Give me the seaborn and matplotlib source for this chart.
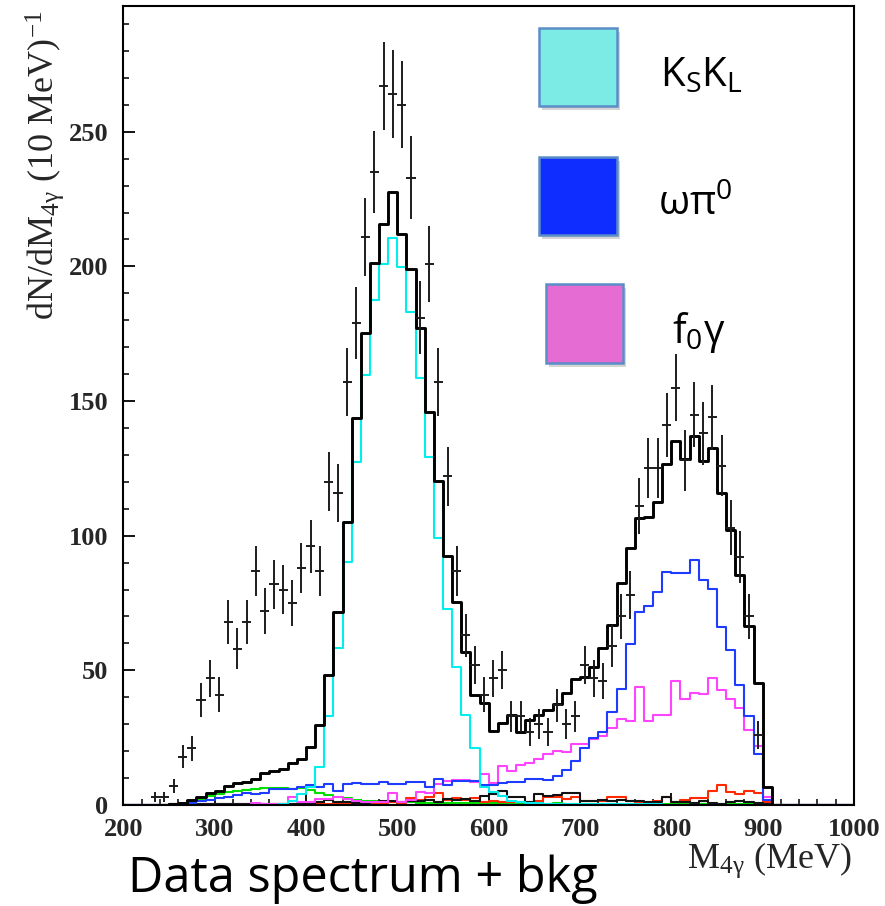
import numpy as np
import pandas as pd
import seaborn as sns
import matplotlib
matplotlib.use("Agg")
import matplotlib.pyplot as plt
from matplotlib.patches import Rectangle
from matplotlib.ticker import MultipleLocator

# ---------------- data (10 MeV bins) ----------------
bin_edges = list(range(200, 1001, 10))        # 200 ... 1000 MeV
lead_zeros = 5                                 # bins 200-250 empty
tail_zeros = 9                                 # bins 910-1000 empty
# values below are for bins with lower edges 250, 260, ..., 900

total_mc = [0.3, 0.6, 1.8, 3.0, 4.3, 5.3, 7.0, 8.2, 8.7, 9.7,
            12.0, 12.6, 13.2, 15.5, 17.0, 21.7, 29.7, 48.3, 71.6, 105.0,
            143.6, 175.2, 201.1, 215.6, 227.7, 211.9, 199.2, 177.2, 146.0, 120.4,
            92.6, 75.5, 56.9, 40.8, 37.7, 27.5, 30.3, 33.4, 27.2, 31.6,
            33.4, 35.3, 37.5, 41.7, 46.7, 47.6, 51.4, 58.4, 66.8, 82.5,
            95.5, 106.4, 106.8, 112.6, 126.6, 135.3, 128.3, 137.0, 127.8, 132.4,
            115.7, 102.1, 85.4, 66.5, 45.4, 6.6]

kskl = [0, 0, 0, 0, 0, 0, 0, 0, 0, 0,
        0, 0, 0.3, 1.5, 4.0, 6.5, 14.2, 33.0, 58.4, 90.1,
        127.5, 159.7, 187.5, 200.8, 210.4, 199.9, 183.2, 158.4, 129.3, 99.0,
        72.6, 51.4, 33.4, 21.0, 6.5, 5.0, 3.5, 1.5, 1.2, 0.8,
        0.6, 0.5, 0.4, 0.3, 0.3, 0.3, 0.3, 0.2, 0.2, 0.2,
        0.2, 0.2, 0.2, 0.2, 0.1, 0.1, 0.1, 0.1, 0.1, 0.1,
        0.1, 0.1, 0.1, 0.1, 0.1, 0.1]

omega_pi0 = [0, 0.3, 0.8, 1.3, 2.0, 2.6, 3.0, 3.8, 4.3, 4.0,
             4.5, 5.8, 6.0, 5.8, 6.5, 7.4, 6.8, 7.8, 5.1, 7.8,
             8.3, 7.8, 7.8, 8.7, 7.8, 7.8, 8.4, 8.7, 6.8, 9.7,
             7.5, 8.8, 8.8, 9.0, 7.4, 7.5, 8.0, 8.5, 8.5, 9.8,
             9.5, 9.2, 10.8, 13.0, 16.5, 21.2, 24.8, 27.2, 34.4, 43.0,
             59.8, 71.5, 74.0, 79.0, 86.5, 86.0, 86.0, 91.0, 83.5, 80.1,
             66.2, 57.5, 44.6, 33.0, 18.9, 2.0]

f0_gamma = [0, 0, 0, 0, 0, 0, 0, 0, 0, 0.7,
            0.3, 0.3, 0.3, 2.8, 1.0, 1.0, 2.2, 2.2, 2.8, 2.2,
            1.6, 1.2, 1.0, 1.0, 4.5, 1.2, 1.8, 4.8, 4.6, 7.8,
            9.0, 9.3, 9.3, 8.5, 11.5, 8.3, 14.5, 12.5, 14.7, 15.5,
            17.2, 19.0, 20.2, 19.5, 22.5, 22.5, 24.5, 25.5, 28.7, 31.8,
            31.3, 43.7, 31.3, 33.4, 33.4, 46.0, 39.2, 41.7, 41.1, 47.0,
            42.7, 39.2, 35.9, 27.8, 21.9, 3.0]

green_bkg = [0, 0.5, 1.2, 2.2, 3.2, 4.2, 4.8, 5.3, 5.6, 5.8,
             6.2, 6.3, 6.4, 6.0, 6.2, 5.5, 4.5, 3.6, 3.0, 2.5,
             2.0, 1.6, 1.4, 1.2, 1.1, 1.0, 1.0, 0.9, 0.9, 0.8,
             0.8, 0.8, 0.7, 0.7, 0.7, 0.7, 0.6, 0.6, 0.5, 0.6,
             0.5, 0.5, 0.6, 0.5, 0.4, 0.5, 0.4, 0.4, 0.5, 0.4,
             0.4, 0.3, 0.4, 0.3, 0.3, 0.3, 0.3, 0.3, 0.2, 0.3,
             0.2, 0.2, 0.2, 0.2, 0.2, 0.1]

red_bkg = [0.2, 0.2, 0.2, 0.2, 0.2, 0.2, 0.2, 0.2, 0.2, 0.2,
           0.2, 0.2, 0.2, 0.2, 0.2, 0.3, 0.4, 0.5, 0.5, 0.6,
           0.6, 0.5, 0.6, 0.7, 1.2, 0.6, 2.5, 1.9, 2.8, 4.3,
           1.9, 2.5, 1.9, 2.5, 1.0, 1.4, 1.0, 1.0, 1.0, 1.0,
           1.6, 2.8, 2.8, 2.2, 2.8, 1.4, 1.6, 1.6, 2.8, 3.1,
           1.6, 1.0, 1.0, 1.6, 2.8, 1.0, 1.9, 2.5, 2.5, 5.3,
           7.3, 4.7, 4.0, 5.2, 4.5, 1.1]

black_bkg = [0.2, 0.2, 0.2, 0.2, 0.2, 0.2, 0.2, 0.2, 0.2, 0.2,
             0.2, 0.2, 0.2, 0.2, 0.2, 0.5, 1.0, 1.9, 1.2, 1.0,
             0.7, 0.7, 1.0, 1.6, 1.6, 1.0, 1.6, 1.6, 1.9, 1.0,
             2.2, 1.9, 2.2, 1.6, 3.5, 4.1, 5.1, 2.8, 2.8, 1.0,
             4.1, 3.5, 3.7, 4.3, 4.3, 1.4, 1.6, 1.9, 1.4, 1.9,
             1.6, 1.6, 1.2, 1.2, 2.8, 1.0, 1.0, 0.6, 1.5, 0.6,
             0.4, 1.0, 1.5, 1.0, 0.6, 0.3]

data_mass = np.arange(235, 900, 10)
data_counts = [3, 3, 7, 18, 21, 39, 47, 41, 68, 58,
               68, 87, 72, 82, 80, 75, 88, 96, 87, 120,
               116, 157, 179, 211, 235, 267, 264, 260, 233, 181,
               201, 157, 122, 87, 63, 52, 41, 47, 50, 33,
               33, 27, 30, 27, 37, 30, 33, 52, 47, 46,
               59, 70, 78, 111, 125, 125, 141, 155, 128, 145,
               138, 144, 126, 103, 92, 70, 26]

legend_labels = ["K$_S$K$_L$", "ωπ$^0$", "f$_0$γ"]
x_title = "M$_{4γ}$ (MeV)"
y_title = "dN/dM$_{4γ}$ (10 MeV)$^{-1}$"
note = "Data spectrum + bkg"

# ---------------- style ----------------
sns.set_style("ticks")
plt.rcParams["font.family"] = ["Liberation Serif", "DejaVu Serif"]
plt.rcParams["mathtext.default"] = "regular"

W, H = 885, 906
fig = plt.figure(figsize=(W / 100, H / 100), dpi=100)
ax_l, ax_r, ax_b, ax_t = 123.3, 854.0, 805.0, 5.7
ax = fig.add_axes([ax_l / W, 1 - ax_b / H, (ax_r - ax_l) / W, (ax_b - ax_t) / H])

centers = np.array(bin_edges[:-1], float) + 5.0


def full(vals):
    return np.concatenate([np.zeros(lead_zeros), np.asarray(vals, float), np.zeros(tail_zeros)])


components = [
    ("green", green_bkg, "#00E000", 1.5),
    ("red", red_bkg, "#FF2A00", 1.5),
    ("other", black_bkg, "#111111", 1.5),
    ("f0g", f0_gamma, "#FF44FF", 1.5),
    ("wpi", omega_pi0, "#1E3CFF", 1.5),
    ("kskl", kskl, "#00EEEE", 1.5),
    ("total", total_mc, "#000000", 2.1),
]

for name, vals, col, lw in components:
    df = pd.DataFrame({"mass": centers, "w": full(vals)})
    sns.histplot(data=df, x="mass", weights="w", bins=bin_edges, element="step",
                 fill=False, color=col, linewidth=lw, ax=ax)

ax.errorbar(data_mass, data_counts, yerr=np.sqrt(data_counts), xerr=5,
            fmt="none", ecolor="#1c1c1c", elinewidth=1.4, capsize=0, zorder=6)

ax.set_xlim(200, 1000)
ax.set_ylim(0, 296.8)

for s in ax.spines.values():
    s.set_color("black")
    s.set_linewidth(1.5)

ax.xaxis.set_major_locator(MultipleLocator(100))
ax.xaxis.set_minor_locator(MultipleLocator(20))
ax.yaxis.set_major_locator(MultipleLocator(50))
ax.yaxis.set_minor_locator(MultipleLocator(10))
ax.tick_params(which="both", direction="in", top=False, right=False, color="black")
ax.tick_params(which="major", length=8.5, width=1.3)
ax.tick_params(which="minor", length=4.5, width=1.1)
ax.tick_params(axis="y", which="major", pad=11)
ax.tick_params(axis="x", which="major", pad=9)
for lab in ax.get_xticklabels() + ax.get_yticklabels():
    lab.set_fontfamily("Liberation Serif")
    lab.set_fontweight("bold")
    lab.set_fontsize(19)

ax.set_xlabel(x_title, fontsize=26, family="Liberation Serif", loc="right")
ax.xaxis.set_label_coords(0.997, -0.045)
ax.set_ylabel(y_title, fontsize=26, family="Liberation Serif", loc="top")
ax.yaxis.set_label_coords(-0.078, 0.994)

# ---------------- legend boxes ----------------
box_w, box_h = 77.4, 78.3
boxes = [(539.3, 27.7, "#7DEBE5"), (539.3, 156.7, "#0F2DFF"), (546.0, 284.3, "#E46CD3")]
label_pos = [(660.0, 86.7), (658.0, 215.0), (671.7, 343.0)]
for (bx, by, fc), lab, (tx, ty) in zip(boxes, legend_labels, label_pos):
    fig.patches.append(Rectangle(((bx + 3) / W, 1 - (by + box_h + 4) / H), box_w / W, box_h / H,
                                 transform=fig.transFigure, facecolor="#888888", alpha=0.35,
                                 edgecolor="none", zorder=1))
    fig.patches.append(Rectangle((bx / W, 1 - (by + box_h) / H), box_w / W, box_h / H,
                                 transform=fig.transFigure, facecolor=fc, edgecolor="#5B8DC6",
                                 linewidth=1.8, zorder=2))
    fig.text(tx / W, 1 - ty / H, lab, fontsize=29, family=["Open Sans", "DejaVu Sans"],
             ha="left", va="baseline", color="black")

fig.text(128 / W, 1 - 892 / H, note, fontsize=35, family=["Open Sans", "DejaVu Sans"],
         ha="left", va="baseline", color="black")

fig.savefig("out.png", dpi=100, facecolor="white")
